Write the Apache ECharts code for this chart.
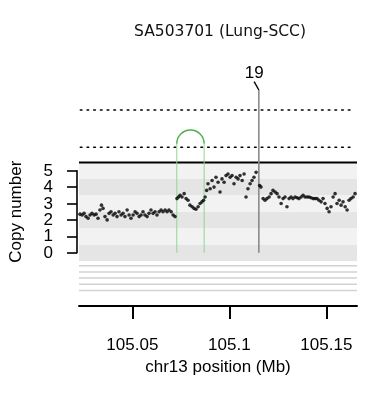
<!DOCTYPE html>
<html><head><meta charset="utf-8">
<script src="https://cdn.jsdelivr.net/npm/echarts@6/dist/echarts.min.js"></script>
<style>html,body{margin:0;padding:0;background:#fff}#c{width:366px;height:394px}</style>
</head><body><div id="c"></div>
<script>
const title = 'SA503701 (Lung-SCC)';
const xTitle = 'chr13 position (Mb)';
const yTitle = 'Copy number';
const xTicks = [105.05, 105.1, 105.15];
const yTicks = [0, 1, 2, 3, 4, 5];
const xRange = [105.0225, 105.1658];
const positions = [
105.0230,105.0241,105.0251,105.0261,105.0272,105.0282,105.0292,105.0303,105.0313,105.0323,105.0333,105.0341,105.0349,105.0359,105.0370,105.0380,105.0390,105.0401,105.0411,105.0421,105.0431,105.0442,105.0452,105.0462,105.0473,105.0483,105.0493,105.0504,105.0514,105.0524,105.0535,105.0545,105.0555,105.0565,105.0576,105.0586,105.0596,105.0607,105.0617,105.0627,105.0638,105.0648,105.0658,105.0669,105.0679,105.0689,105.0700,105.0710,105.0720,
105.0730,105.0738,105.0746,105.0756,105.0767,105.0777,105.0787,105.0797,105.0808,105.0818,105.0828,105.0839,105.0849,105.0859,105.0867,
105.0875,105.0883,105.0890,105.0901,105.0911,105.0921,105.0931,105.0942,105.0952,105.0962,105.0973,105.0983,105.0993,105.1004,105.1014,105.1024,105.1035,105.1045,105.1055,105.1066,105.1076,105.1086,105.1096,105.1107,105.1117,105.1127,105.1138,
105.1156,105.1163,105.1174,105.1184,105.1194,105.1205,105.1215,105.1225,105.1236,105.1246,105.1256,105.1267,105.1277,105.1287,105.1297,105.1308,105.1318,105.1328,105.1339,105.1349,105.1359,105.1370,105.1380,105.1390,105.1401,105.1411,105.1421,105.1432,105.1442,105.1452,105.1462,105.1473,105.1483,105.1493,105.1504,105.1514,105.1524,105.1535,105.1545,105.1555,105.1566,105.1576,105.1586,105.1597,105.1607,105.1617,105.1627,105.1638,105.1648
];
const copyNumber = [
2.35,2.3,2.4,2.2,2.1,2.3,2.4,2.3,2.35,2.1,2.6,2.9,2.7,2.2,2.0,2.4,2.5,2.3,2.4,2.2,2.5,2.3,2.4,2.2,2.6,2.3,2.1,2.3,2.5,2.4,2.2,2.3,2.5,2.3,2.2,2.4,2.6,2.4,2.5,2.3,2.5,2.6,2.5,2.6,2.5,2.6,2.5,2.3,2.2,
3.3,3.4,3.5,3.4,3.6,3.3,3.2,2.9,2.8,2.7,2.65,2.8,3.0,3.1,3.2,
3.4,3.8,4.2,3.9,4.4,4.0,4.6,4.3,3.7,4.5,4.3,4.7,4.8,4.6,4.7,4.2,4.6,4.5,4.7,4.4,4.8,3.4,3.9,4.2,4.4,4.6,4.9,
4.1,4.0,3.3,3.2,3.3,3.4,3.6,3.8,3.7,3.6,3.4,3.0,3.3,3.4,2.8,3.3,3.4,3.3,3.4,3.35,3.3,3.4,3.5,3.4,3.4,3.4,3.35,3.3,3.3,3.3,3.2,3.1,3.3,3.0,2.7,2.5,2.8,3.4,3.6,3.0,3.2,2.9,3.1,2.8,2.6,3.2,3.3,3.4,3.6
];
const bandLevels = [0, 1, 2, 3, 4, 5];
const bandTop = 5.5;
const dottedLevels = [6.43, 8.70];
const trackLevels = [-0.80, -1.17, -1.55, -1.93, -2.30];
const linkBreakpoints = [105.0729, 105.0870];
const linkTop = 7.48;
const svPosition = 105.1152;
const svTop = 9.92;
const svLabel = '19';

const chart = echarts.init(document.getElementById('c'), null, {renderer: 'canvas'});
const FONT = 'Liberation Sans, Arial, sans-serif';

const bandAreas = bandLevels.map(l => [
  {xAxis: xRange[0], yAxis: l - 0.5, itemStyle: {color: (l % 2 === 0) ? '#e5e5e5' : '#f2f2f2'}},
  {xAxis: xRange[1], yAxis: l + 0.5}
]);

const series = [];
series.push({
  type: 'line', xAxisIndex: 0, yAxisIndex: 0, data: [[xRange[0], bandTop], [xRange[1], bandTop]],
  symbol: 'none', silent: true, z: 3,
  lineStyle: {color: '#000', width: 2},
  markArea: {silent: true, z: 1, data: bandAreas}
});
trackLevels.forEach(l => series.push({
  type: 'line', data: [[xRange[0], l], [xRange[1], l]], symbol: 'none', silent: true, z: 2,
  lineStyle: {color: '#d2d2d2', width: 1.5}
}));
dottedLevels.forEach(l => series.push({
  type: 'line', data: [[105.0232, l], [105.1645, l]], symbol: 'none', silent: true, z: 2,
  lineStyle: {color: '#000', width: 1.6, type: [1.6, 5.1], cap: 'round'}
}));
series.push({
  type: 'custom', silent: true, z: 4, clip: false,
  data: [[linkBreakpoints[0], linkBreakpoints[1], linkTop]],
  renderItem: function (params, api) {
    const p1 = api.coord([api.value(0), 0]);
    const p2 = api.coord([api.value(1), 0]);
    const top = api.coord([api.value(0), api.value(2)]);
    const r = (p2[0] - p1[0]) / 2;
    const cy = top[1] + r;
    return {type: 'group', children: [
      {type: 'line', shape: {x1: p1[0], y1: p1[1], x2: p1[0], y2: cy}, style: {stroke: '#8fd68f', lineWidth: 1}},
      {type: 'line', shape: {x1: p2[0], y1: p2[1], x2: p2[0], y2: cy}, style: {stroke: '#8fd68f', lineWidth: 1}},
      {type: 'arc', shape: {cx: (p1[0] + p2[0]) / 2, cy: cy, r: r, startAngle: Math.PI, endAngle: 2 * Math.PI, clockwise: true},
        style: {stroke: '#4cb04c', lineWidth: 1.4, fill: null}}
    ]};
  }
});
series.push({
  type: 'custom', silent: true, z: 4, clip: false,
  data: [[svPosition, svTop]],
  renderItem: function (params, api) {
    const b = api.coord([api.value(0), 0]);
    const t = api.coord([api.value(0), api.value(1)]);
    return {type: 'group', children: [
      {type: 'line', shape: {x1: b[0], y1: b[1], x2: t[0], y2: t[1]}, style: {stroke: '#8a8a8a', lineWidth: 1.6}},
      {type: 'line', shape: {x1: t[0], y1: t[1], x2: t[0] - 4.7, y2: t[1] - 8.3}, style: {stroke: '#000', lineWidth: 1.4}},
      {type: 'text', x: t[0] - 4.7, y: t[1] - 16.5, style: {text: svLabel, fontSize: 17, fontFamily: FONT, fill: '#000', align: 'center', verticalAlign: 'middle'}}
    ]};
  }
});
// copy-number tick labels, placed through the value axis
series.push({
  type: 'custom', silent: true, z: 5, clip: false,
  data: yTicks.map(v => [xRange[0], v]),
  renderItem: function (params, api) {
    const p = api.coord([api.value(0), api.value(1)]);
    return {type: 'text', x: p[0] - 26, y: p[1] + 0.5,
      style: {text: String(api.value(1)), fontSize: 17, fontFamily: FONT, fill: '#000', align: 'right', verticalAlign: 'middle'}};
  }
});
series.push({
  type: 'scatter', data: positions.map((p, i) => [p, copyNumber[i]]),
  symbol: 'circle', symbolSize: 3.6, z: 6, silent: true,
  itemStyle: {color: '#000'}
});

chart.setOption({
  animation: false,
  backgroundColor: '#fff',
  title: {text: title, left: 215, top: 19, textAlign: 'center',
    textStyle: {fontSize: 15.5, fontWeight: 'normal', color: '#111', fontFamily: 'DejaVu Sans, sans-serif'}},
  grid: [
    {left: 79, right: 9, top: 60, bottom: 88},
    {left: 79, right: 9, top: 170.7, height: 82}
  ],
  xAxis: [
    {type: 'value', gridIndex: 0, min: xRange[0], max: xRange[1],
      axisLine: {show: true, onZero: false, lineStyle: {color: '#000', width: 2}},
      axisTick: {show: true, customValues: xTicks, length: 13, lineStyle: {color: '#000', width: 2}},
      axisLabel: {customValues: xTicks, fontSize: 17, color: '#000', fontFamily: FONT, margin: 31,
        formatter: v => String(v)},
      splitLine: {show: false},
      name: xTitle, nameLocation: 'middle', nameGap: 53,
      nameTextStyle: {fontSize: 17, color: '#000', fontFamily: FONT}},
    {type: 'value', gridIndex: 1, min: xRange[0], max: xRange[1], show: false}
  ],
  yAxis: [
    {type: 'value', gridIndex: 0, min: -3.25, max: 11.75, show: false},
    {type: 'value', gridIndex: 1, min: 0, max: 5, interval: 1, offset: 4,
      axisLine: {show: true, lineStyle: {color: '#000', width: 1.6}},
      axisTick: {show: true, customValues: yTicks, length: 10, lineStyle: {color: '#000', width: 1.6}},
      axisLabel: {show: false},
      splitLine: {show: false},
      name: yTitle, nameLocation: 'middle', nameGap: 52, nameRotate: 90,
      nameTextStyle: {fontSize: 17, color: '#000', fontFamily: FONT}}
  ],
  series: series
});
</script></body></html>
